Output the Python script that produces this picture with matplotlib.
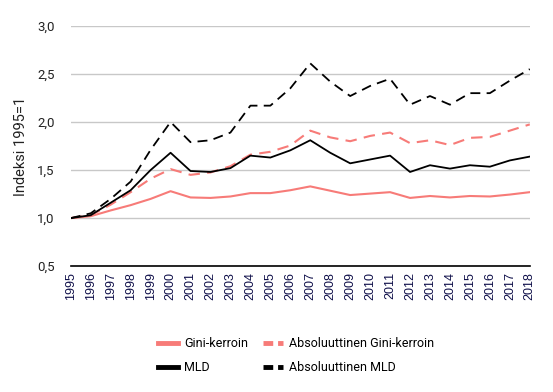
import matplotlib
matplotlib.use("Agg")
import matplotlib.pyplot as plt
from matplotlib.lines import Line2D
from matplotlib.ticker import FuncFormatter

years = list(range(1995, 2019))
gini = [1.00, 1.02, 1.08, 1.135, 1.20, 1.28, 1.215, 1.21, 1.225, 1.26, 1.26, 1.29, 1.33,
        1.285, 1.24, 1.255, 1.27, 1.21, 1.23, 1.215, 1.23, 1.225, 1.245, 1.27]
abs_gini = [1.00, 1.03, 1.14, 1.27, 1.41, 1.51, 1.45, 1.475, 1.54, 1.66, 1.69, 1.755, 1.91,
            1.84, 1.80, 1.855, 1.89, 1.78, 1.81, 1.76, 1.835, 1.845, 1.91, 1.975]
mld = [1.00, 1.03, 1.16, 1.29, 1.50, 1.68, 1.49, 1.48, 1.52, 1.65, 1.63, 1.705, 1.81,
       1.68, 1.57, 1.61, 1.65, 1.48, 1.55, 1.515, 1.55, 1.535, 1.60, 1.64]
abs_mld = [1.00, 1.05, 1.20, 1.38, 1.71, 2.00, 1.79, 1.81, 1.89, 2.17, 2.17, 2.35, 2.61,
           2.42, 2.27, 2.375, 2.45, 2.18, 2.27, 2.18, 2.30, 2.30, 2.43, 2.55]
labels = ["Gini-kerroin", "Absoluuttinen Gini-kerroin", "MLD", "Absoluuttinen MLD"]
yticks = [0.5, 1.0, 1.5, 2.0, 2.5, 3.0]

pink = "#f77b78"
dash = (0, (5.5, 3.5))

fig = plt.figure(figsize=(5.53, 3.92), dpi=100)
ax = fig.add_axes([0.128, 0.321, 0.830, 0.613])

ax.plot(years, gini, color=pink, lw=1.5)
ax.plot(years, abs_gini, color=pink, lw=1.5, linestyle=dash)
ax.plot(years, mld, color="black", lw=1.3)
ax.plot(years, abs_mld, color="black", lw=1.3, linestyle=dash)

ax.set_xlim(1995, 2018)
ax.set_ylim(0.5, 3.0)
ax.set_yticks(yticks)
ax.yaxis.set_major_formatter(FuncFormatter(lambda v, p: f"{v:.1f}".replace(".", ",")))
ax.set_xticks(years)
ax.set_xticklabels([str(y) for y in years], rotation=90, family="Liberation Sans",
                   fontsize=9, color="#10104a")
for t in ax.get_yticklabels():
    t.set_family("Roboto")
    t.set_fontsize(9.5)
    t.set_color("#222222")

ax.grid(axis="y", color="#c8c8c8", lw=1.0)
ax.set_axisbelow(True)
for s in ["top", "right", "left"]:
    ax.spines[s].set_visible(False)
ax.spines["bottom"].set_color("black")
ax.spines["bottom"].set_linewidth(1.2)
ax.tick_params(axis="both", length=0)
ax.tick_params(axis="y", pad=11.5)
ax.tick_params(axis="x", pad=4)
ax.set_ylabel("Indeksi 1995=1", family="Roboto", fontsize=10.5, color="#222222", labelpad=8)
ax.yaxis.set_label_coords(-0.094, 0.5)

handles = [
    Line2D([], [], color=pink, lw=3.5),
    Line2D([], [], color=pink, lw=3.5, linestyle=(0, (2, 1))),
    Line2D([], [], color="black", lw=3.5),
    Line2D([], [], color="black", lw=3.5, linestyle=(0, (2, 1))),
]
order = [0, 2, 1, 3]
fig.legend([handles[i] for i in order], [labels[i] for i in order], ncol=2,
           loc="center", bbox_to_anchor=(0.536, 0.093), frameon=False,
           prop={"family": "Roboto", "size": 9}, handlelength=1.6,
           handletextpad=0.48, columnspacing=1.2, labelspacing=0.9)

fig.savefig("out.png", dpi=100)
